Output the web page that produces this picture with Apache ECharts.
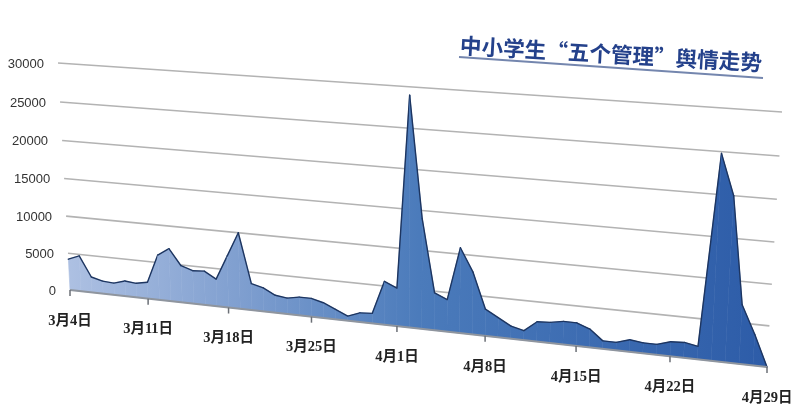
<!DOCTYPE html>
<html><head><meta charset="utf-8">
<script src="https://cdn.jsdelivr.net/npm/echarts@6/dist/echarts.min.js"></script>
<style>html,body{margin:0;padding:0;background:#fff}#c{width:800px;height:416px}</style>
</head><body><div id="c"></div>
<script>
const categories = ['3月4日','3月5日','3月6日','3月7日','3月8日','3月9日','3月10日','3月11日','3月12日','3月13日',
  '3月14日','3月15日','3月16日','3月17日','3月18日','3月19日','3月20日','3月21日','3月22日','3月23日',
  '3月24日','3月25日','3月26日','3月27日','3月28日','3月29日','3月30日','3月31日','4月1日','4月2日',
  '4月3日','4月4日','4月5日','4月6日','4月7日','4月8日','4月9日','4月10日','4月11日','4月12日',
  '4月13日','4月14日','4月15日','4月16日','4月17日','4月18日','4月19日','4月20日','4月21日','4月22日',
  '4月23日','4月24日','4月25日','4月26日','4月27日','4月28日','4月29日'];
const values = [4200,4800,2100,1700,1600,2050,1900,2200,6000,7000,
  4900,4400,4500,3600,6800,10000,3500,3100,2300,2100,
  2400,2400,2000,1300,600,1200,1300,5600,4900,29000,
  14000,4800,4100,10800,7900,3400,2500,1600,1200,2500,
  2600,2900,2900,2300,1000,1000,1500,1300,1300,1800,
  1900,1600,24800,20000,7200,3800,0];
const yTicks = [0,5000,10000,15000,20000,25000,30000];
const xTickLabels = ['3月4日','3月11日','3月18日','3月25日','4月1日','4月8日','4月15日','4月22日','4月29日'];
const chartTitle = '中小学生“五个管理”舆情走势';

// screen corners of the tilted plot plane: bottom-left, bottom-right, top-right, top-left
const QUAD = [[70,290],[767,367],[782,112],[58,63]];
function makeH(q){
  const [x0,y0]=q[0],[x1,y1]=q[1],[x2,y2]=q[2],[x3,y3]=q[3];
  const dx1=x1-x2, dx2=x3-x2, dx3=x0-x1+x2-x3;
  const dy1=y1-y2, dy2=y3-y2, dy3=y0-y1+y2-y3;
  const den=dx1*dy2-dx2*dy1;
  const g=(dx3*dy2-dx2*dy3)/den, h=(dx1*dy3-dx3*dy1)/den;
  const a=x1-x0+g*x1, b=x3-x0+h*x3, c=x0;
  const d=y1-y0+g*y1, e=y3-y0+h*y3, f=y0;
  return (u,v)=>{const w=g*u+h*v+1;return [(a*u+b*v+c)/w,(d*u+e*v+f)/w];};
}
const H = makeH(QUAD);
function proj(params, api, xv, yv){
  const p = api.coord([xv, yv]);
  const cs = params.coordSys;
  return H((p[0]-cs.x)/cs.width, (cs.y+cs.height-p[1])/cs.height);
}
const lastIdx = categories.length - 1;

const chart = echarts.init(document.getElementById('c'), null, {renderer:'canvas'});
chart.setOption({
  animation:false,
  backgroundColor:'#ffffff',
  grid:{left:70,right:33,top:63,bottom:126},
  xAxis:{type:'category',data:categories,boundaryGap:false,show:false},
  yAxis:{type:'value',min:0,max:30000,interval:5000,show:false},
  graphic:[
    {type:'text',x:611,y:54,rotation:-0.057,z:10,
     style:{text:chartTitle,fontSize:21.6,fontWeight:'bold',fontFamily:'"Noto Sans CJK SC"',fill:'#24418b',
            align:'center',verticalAlign:'middle',textAlign:'center',textVerticalAlign:'middle'}},
    {type:'line',z:9,shape:{x1:459,y1:57,x2:763,y2:78},style:{stroke:'#7486ae',lineWidth:2}}
  ],
  series:[
    { // gridlines
      type:'custom',clip:false,z:1,
      data:yTicks.filter(v=>v>0).map(v=>[0,v]),
      renderItem:(params,api)=>{
        const v=api.value(1);
        const a=proj(params,api,0,v), b=proj(params,api,lastIdx,v);
        return {type:'line',shape:{x1:a[0],y1:a[1],x2:b[0],y2:b[1]},style:{stroke:'#b3b3b3',lineWidth:1.6}};
      }
    },
    { // area
      type:'custom',clip:false,z:2,
      data:values.slice(0,-1).map((v,i)=>[i,v,values[i+1]]),
      renderItem:(params,api)=>{
        const i=api.value(0), v1=api.value(1), v2=api.value(2);
        const p0=proj(params,api,i,0), p1=proj(params,api,i,v1), p2=proj(params,api,i+1,v2), p3=proj(params,api,i+1,0);
        const grad=new echarts.graphic.LinearGradient(70,0,767,0,[
          {offset:0,color:'#adc0e2'},{offset:0.25,color:'#7e9ecf'},{offset:0.5,color:'#4b7bbb'},{offset:1,color:'#2d5ca8'}],true);
        return {type:'group',children:[
          {type:'polygon',shape:{points:[p0,p1,p2,p3]},style:{fill:grad,stroke:grad,lineWidth:0.6}},
          {type:'line',shape:{x1:p1[0],y1:p1[1],x2:p2[0],y2:p2[1]},style:{stroke:'#1d3560',lineWidth:1.4,lineCap:'round'}}
        ]};
      }
    },
    { // x axis line, ticks and labels
      type:'custom',clip:false,z:3,
      data:xTickLabels.map(l=>[categories.indexOf(l),0]),
      renderItem:(params,api)=>{
        const i=api.value(0);
        const p=proj(params,api,i,0);
        const children=[
          {type:'line',shape:{x1:p[0],y1:p[1],x2:p[0],y2:p[1]+6},style:{stroke:'#6b6f76',lineWidth:1.5}},
          {type:'text',x:p[0],y:p[1]+31,style:{text:xTickLabels[params.dataIndex],fontSize:14.5,fontWeight:'bold',
            fontFamily:'"Liberation Serif","Noto Sans CJK SC"',fill:'#222',align:'center',verticalAlign:'middle',
            textAlign:'center',textVerticalAlign:'middle'}}
        ];
        if(params.dataIndex===0){
          const q=proj(params,api,lastIdx,0);
          children.unshift({type:'line',shape:{x1:p[0],y1:p[1],x2:q[0],y2:q[1]},style:{stroke:'#8f959e',lineWidth:2}});
        }
        return {type:'group',children};
      }
    },
    { // y labels
      type:'custom',clip:false,z:3,
      data:yTicks.map(v=>[0,v]),
      renderItem:(params,api)=>{
        const v=api.value(1);
        const p=proj(params,api,0,v);
        return {type:'text',x:p[0]-14,y:p[1]+1,style:{text:String(yTicks[params.dataIndex]),fontSize:13,
          fontFamily:'"Liberation Sans"',fill:'#333',align:'right',verticalAlign:'middle',
          textAlign:'right',textVerticalAlign:'middle'}};
      }
    }
  ]
});
</script></body></html>
